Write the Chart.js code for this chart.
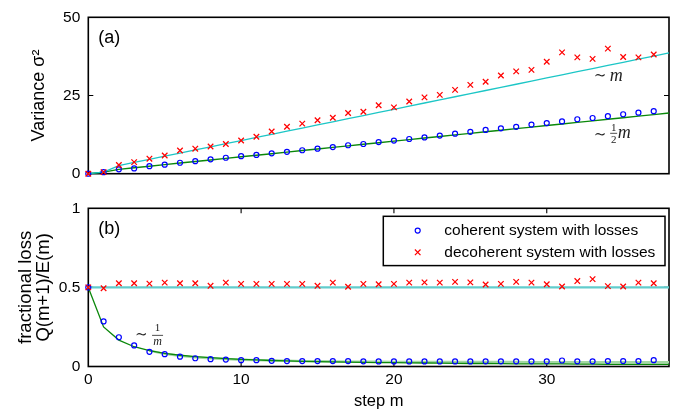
<!DOCTYPE html>
<html><head><meta charset="utf-8">
<script src="https://cdn.jsdelivr.net/npm/chart.js@4.4.1/dist/chart.umd.min.js"></script>
<style>
html,body{margin:0;padding:0;background:#fff;width:686px;height:414px;overflow:hidden}
canvas{position:absolute;left:0}
#c1{top:0}
#c2{top:191px}
</style></head><body>
<canvas id="c1" width="686" height="191" style="width:686px;height:191px"></canvas>
<canvas id="c2" width="686" height="223" style="width:686px;height:223px"></canvas>
<script>
// ---------- data ----------
const steps = [0,1,2,3,4,5,6,7,8,9,10,11,12,13,14,15,16,17,18,19,20,21,22,23,24,25,26,27,28,29,30,31,32,33,34,35,36,37];
const theorySteps = [0,1,2,3,4,5,6,7,8,9,10,11,12,13,14,15,16,17,18,19,20,21,22,23,24,25,26,27,28,29,30,31,32,33,34,35,36,37,38];

// panel (a): variance
const coherentVariance = [0,0.5,1.4,1.7,2.4,2.9,3.5,4.0,4.6,5.1,5.6,6.0,6.5,7.0,7.5,8.0,8.5,9.1,9.5,10.1,10.6,11.1,11.6,12.2,12.8,13.4,14.0,14.5,15.0,15.7,16.2,16.7,17.4,17.8,18.4,19.0,19.5,20.0];
const decoherentVariance = [0,0.5,2.8,3.7,4.8,5.8,7.4,8.0,8.7,9.5,10.6,11.8,13.5,15.0,16.0,17.1,17.9,19.4,19.8,21.9,21.2,23.1,24.4,25.2,26.8,28.4,29.4,31.4,32.7,33.2,35.8,38.8,37.2,36.7,40.0,37.3,37.2,38.1];
const theoryLinear = [0,0.5,2.6,3.6,4.6,5.6,6.6,7.6,8.6,9.6,10.6,11.6,12.6,13.6,14.6,15.6,16.6,17.6,18.6,19.6,20.6,21.6,22.6,23.6,24.6,25.6,26.6,27.6,28.6,29.6,30.6,31.6,32.6,33.6,34.6,35.6,36.6,37.6,38.6];
const theoryHalfLinear = [0,0.5,1.4,1.9,2.4,2.9,3.4,3.9,4.4,4.9,5.4,5.9,6.4,6.9,7.4,7.9,8.4,8.9,9.4,9.9,10.4,10.9,11.4,11.9,12.4,12.9,13.4,13.9,14.4,14.9,15.4,15.9,16.4,16.9,17.4,17.9,18.4,18.9,19.4];

// panel (b): fractional loss
const coherentLoss = [0.5,0.285,0.185,0.133,0.093,0.078,0.062,0.052,0.046,0.044,0.04,0.04,0.036,0.034,0.034,0.034,0.034,0.034,0.033,0.032,0.032,0.032,0.032,0.032,0.032,0.032,0.033,0.033,0.033,0.033,0.033,0.038,0.033,0.033,0.034,0.034,0.034,0.04];
const decoherentLoss = [0.5,0.495,0.526,0.526,0.524,0.53,0.526,0.526,0.51,0.53,0.522,0.522,0.522,0.522,0.522,0.51,0.53,0.504,0.522,0.52,0.522,0.53,0.532,0.53,0.535,0.532,0.518,0.522,0.535,0.53,0.52,0.506,0.54,0.552,0.508,0.506,0.53,0.526];
const theoryInverse = [0.5,0.25,0.167,0.125,0.1,0.083,0.071,0.063,0.056,0.05,0.045,0.042,0.038,0.036,0.033,0.031,0.029,0.028,0.026,0.025,0.024,0.023,0.022,0.021,0.02,0.019,0.019,0.018,0.017,0.017,0.016,0.016,0.015,0.015,0.014,0.014,0.014,0.013,0.013];
const theoryInverseWide = [null,null,null,null,0.1,0.08,0.068,0.058,0.052,0.047,0.043,0.04,0.038,0.036,0.034,0.033,0.032,0.031,0.03,0.03,0.029,0.029,0.029,0.028,0.028,0.028,0.028,0.028,0.028,0.027,0.027,0.027,0.027,0.027,0.027,0.027,0.027,0.027,0.027];
const theoryHalf = [0.5,0.5,0.5,0.5,0.5,0.5,0.5,0.5,0.5,0.5,0.5,0.5,0.5,0.5,0.5,0.5,0.5,0.5,0.5,0.5,0.5,0.5,0.5,0.5,0.5,0.5,0.5,0.5,0.5,0.5,0.5,0.5,0.5,0.5,0.5,0.5,0.5,0.5,0.5];

const varianceTicks = [0,25,50];
const lossTicks = [0,0.5,1];
const stepTicks = [0,10,20,30];
const legendLabels = ['coherent system with losses','decoherent system with losses'];

// ---------- helpers ----------
const SANS = '"Liberation Sans", Arial, Helvetica, sans-serif';
const SERIF = '"Liberation Serif", "DejaVu Serif", serif';
const pts = (xs, ys) => xs.map((x, i) => ({x, y: ys[i]}));

function drawTilde(ctx, x, y, size) {
  ctx.font = size + 'px "DejaVu Serif", serif';
  ctx.textBaseline = 'middle'; ctx.textAlign = 'left';
  ctx.fillText('\u223C', x, y);
}

const deco = {
  id: 'deco',
  beforeDatasetsDraw(chart, args, o) {
    const {ctx, chartArea: a, scales} = chart;
    ctx.save();
    ctx.strokeStyle = '#000';
    ctx.lineWidth = 1.6;
    ctx.strokeRect(a.left, a.top, a.right - a.left, a.bottom - a.top);
    const L = 5;
    ctx.beginPath();
    (o.yTicks || []).forEach(v => {
      const y = scales.y.getPixelForValue(v);
      ctx.moveTo(a.left, y); ctx.lineTo(a.left + L, y);
      ctx.moveTo(a.right, y); ctx.lineTo(a.right - L, y);
    });
    (o.xTicks || []).forEach(v => {
      const x = scales.x.getPixelForValue(v);
      ctx.moveTo(x, a.bottom); ctx.lineTo(x, a.bottom - L);
      ctx.moveTo(x, a.top); ctx.lineTo(x, a.top + L);
    });
    ctx.lineWidth = 1.1;
    ctx.stroke();
    ctx.fillStyle = '#000';
    ctx.font = '18px ' + SANS;
    ctx.textBaseline = 'middle'; ctx.textAlign = 'left';
    ctx.fillText(o.panel, a.left + 10, a.top + 21);
    ctx.restore();
  },
  afterDatasetsDraw(chart, args, o) {
    const {ctx, chartArea: a, scales} = chart;
    ctx.save();
    ctx.fillStyle = '#222';
    ctx.strokeStyle = '#222';
    (o.notes || []).forEach(n => {
      const px = scales.x.getPixelForValue(n.x);
      const py = scales.y.getPixelForValue(n.y);
      if (n.kind === 'm') {
        drawTilde(ctx, px, py, 15);
        ctx.font = 'italic 18px ' + SERIF; ctx.textBaseline = 'alphabetic';
        ctx.fillText('m', px + 16, py + 4.7);
      } else if (n.kind === 'halfm') {
        drawTilde(ctx, px, py, 15);
        ctx.font = '11px ' + SERIF; ctx.textAlign = 'center'; ctx.textBaseline = 'middle';
        ctx.fillText('1', px + 20, py - 7);
        ctx.fillText('2', px + 20, py + 4.8);
        ctx.beginPath(); ctx.lineWidth = 0.8;
        ctx.moveTo(px + 16.5, py - 1.5); ctx.lineTo(px + 23.5, py - 1.5); ctx.stroke();
        ctx.textAlign = 'left'; ctx.textBaseline = 'alphabetic';
        ctx.font = 'italic 18px ' + SERIF;
        ctx.fillText('m', px + 24, py + 3.5);
      } else if (n.kind === 'invm') {
        drawTilde(ctx, px, py, 15);
        ctx.font = '11px ' + SERIF; ctx.textAlign = 'center'; ctx.textBaseline = 'middle';
        ctx.fillText('1', px + 22.5, py - 7);
        ctx.beginPath(); ctx.lineWidth = 0.8;
        ctx.moveTo(px + 17, py + 0.5); ctx.lineTo(px + 28, py + 0.5); ctx.stroke();
        ctx.font = 'italic 12px ' + SERIF;
        ctx.fillText('m', px + 22.5, py + 6.5);
      }
    });
    if (o.legend) {
      const W = 281.7, H = 49.3;
      const bx = a.right - 4 - W, by = a.top + 8;
      ctx.fillStyle = '#fff';
      ctx.fillRect(bx, by, W, H);
      ctx.strokeStyle = '#000'; ctx.lineWidth = 1.5;
      ctx.strokeRect(bx, by, W, H);
      const rows = [by + 14.3, by + 36];
      const mx = bx + 34.4;
      ctx.beginPath(); ctx.strokeStyle = '#0000ff'; ctx.lineWidth = 1.2;
      ctx.arc(mx, rows[0], 2.5, 0, Math.PI * 2); ctx.stroke();
      ctx.beginPath(); ctx.strokeStyle = '#ff0000'; ctx.lineWidth = 1.2;
      const c = 2.8;
      ctx.moveTo(mx - c, rows[1] - c); ctx.lineTo(mx + c, rows[1] + c);
      ctx.moveTo(mx + c, rows[1] - c); ctx.lineTo(mx - c, rows[1] + c);
      ctx.stroke();
      ctx.fillStyle = '#000';
      ctx.font = '15.5px ' + SANS; ctx.textAlign = 'left'; ctx.textBaseline = 'middle';
      o.legend.forEach((t, i) => ctx.fillText(t, bx + 61, rows[i]));
    }
    ctx.restore();
  }
};

const tickFont = {family: SANS, size: 15.5};
const plainLabel = v => String(v);

const lineDs = (label, xs, ys, color, width, order) => ({
  label, data: pts(xs, ys), showLine: true, borderColor: color, backgroundColor: color,
  borderWidth: width, pointRadius: 0, clip: false, order, spanGaps: false
});
const circleDs = (label, ys) => ({
  label, data: pts(steps, ys), pointStyle: 'circle', pointRadius: 2.5, borderColor: '#0000ff',
  backgroundColor: 'rgba(0,0,0,0)', borderWidth: 1.2, showLine: false, clip: false, order: 1
});
const crossDs = (label, ys) => ({
  label, data: pts(steps, ys), pointStyle: 'crossRot', pointRadius: 3.9, borderColor: '#ff0000',
  backgroundColor: '#ff0000', borderWidth: 1.25, showLine: false, clip: false, order: 1
});

// ---------- panel (a) ----------
new Chart(document.getElementById('c1'), {
  type: 'scatter',
  data: {datasets: [
    lineDs('~ m', theorySteps, theoryLinear, '#1cc6c6', 1.3, 3),
    lineDs('~ m/2', theorySteps, theoryHalfLinear, '#0a880a', 1.4, 3),
    crossDs(legendLabels[1], decoherentVariance),
    circleDs(legendLabels[0], coherentVariance)
  ]},
  options: {
    responsive: false, animation: false, devicePixelRatio: 1,
    layout: {padding: {top: 14, right: 17, bottom: 9.3, left: 0}},
    plugins: {
      legend: {display: false}, tooltip: {enabled: false},
      deco: {panel: '(a)', yTicks: [25], xTicks: [],
        notes: [{kind: 'm', x: 33.07, y: 31.2}, {kind: 'halfm', x: 33.07, y: 12.43}]}
    },
    scales: {
      x: {type: 'linear', display: false, min: 0, max: 38},
      y: {type: 'linear', min: 0, max: 50,
        afterBuildTicks: s => { s.ticks = varianceTicks.map(v => ({value: v})); },
        ticks: {font: tickFont, color: '#000', padding: 8, callback: plainLabel},
        grid: {display: false, drawTicks: false}, border: {display: false},
        title: {display: true, text: 'Variance \u03C3\u00B2', color: '#000',
          font: {family: SANS, size: 18, lineHeight: 1.2}, padding: {top: 28.5, bottom: 0}},
        afterFit: s => { s.width = 88.3; }
      }
    }
  },
  plugins: [deco]
});

// ---------- panel (b) ----------
new Chart(document.getElementById('c2'), {
  type: 'scatter',
  data: {datasets: [
    lineDs('0.5', theorySteps, theoryHalf, '#62cccc', 2.4, 4),
    lineDs('~ 1/m wide', theorySteps, theoryInverseWide, '#a3d8a3', 2.4, 4),
    lineDs('~ 1/m', theorySteps, theoryInverse, '#0a880a', 1.3, 3),
    crossDs(legendLabels[1], decoherentLoss),
    circleDs(legendLabels[0], coherentLoss)
  ]},
  options: {
    responsive: false, animation: false, devicePixelRatio: 1,
    layout: {padding: {top: 10, right: 17, bottom: 0, left: 0}},
    plugins: {
      legend: {display: false}, tooltip: {enabled: false},
      deco: {panel: '(b)', yTicks: [0.5], xTicks: [10, 20, 30],
        notes: [{kind: 'invm', x: 3.06, y: 0.2}], legend: legendLabels}
    },
    scales: {
      x: {type: 'linear', min: 0, max: 38,
        afterBuildTicks: s => { s.ticks = stepTicks.map(v => ({value: v})); },
        ticks: {font: tickFont, color: '#000', padding: 4, maxRotation: 0, callback: plainLabel},
        grid: {display: false, drawTicks: false}, border: {display: false},
        title: {display: true, text: 'step m', color: '#000',
          font: {family: SANS, size: 16.5, lineHeight: 1.2}, padding: {top: 0, bottom: 3}},
        afterFit: s => { s.height = 47.5; }
      },
      y: {type: 'linear', min: 0, max: 1,
        afterBuildTicks: s => { s.ticks = lossTicks.map(v => ({value: v})); },
        ticks: {font: tickFont, color: '#000', padding: 8, callback: plainLabel},
        grid: {display: false, drawTicks: false}, border: {display: false},
        title: {display: true, text: ['fractional loss', 'Q(m+1)/E(m)'], color: '#000',
          font: {family: SANS, size: 18.5, lineHeight: 1.02}, padding: {top: 16, bottom: 0}},
        afterFit: s => { s.width = 88.3; }
      }
    }
  },
  plugins: [deco]
});
</script>
</body></html>
